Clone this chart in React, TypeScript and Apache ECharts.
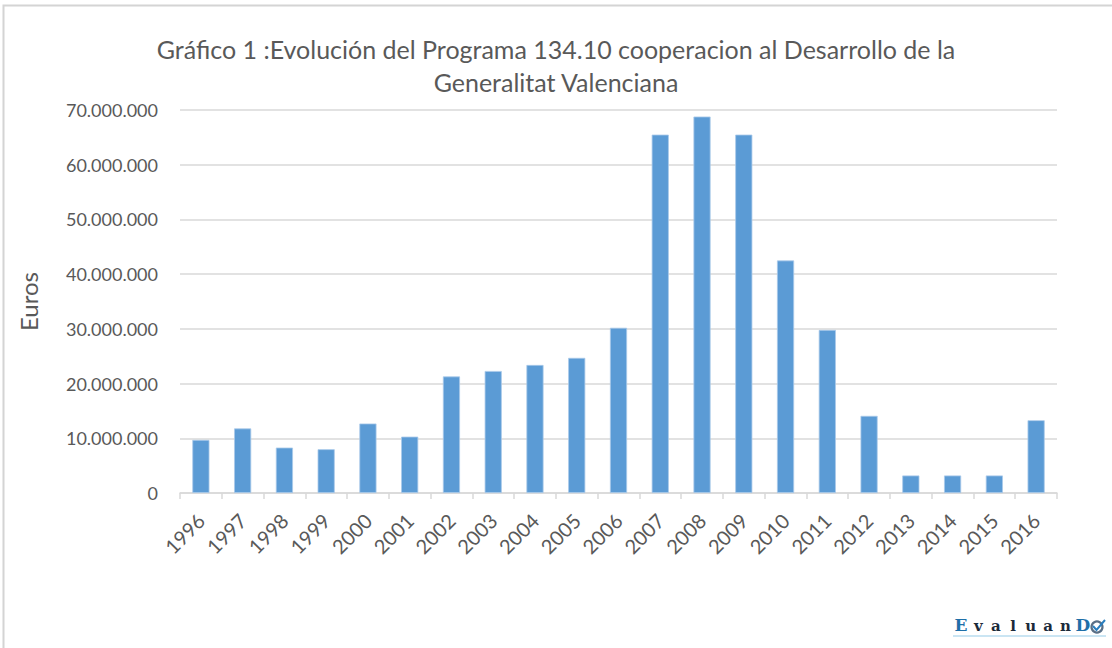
import React, { useEffect, useRef } from "react";
import * as echarts from "echarts";

const years = ["1996","1997","1998","1999","2000","2001","2002","2003","2004","2005","2006","2007","2008","2009","2010","2011","2012","2013","2014","2015","2016"];
const euros = [9700000, 11800000, 8300000, 8000000, 12700000, 10300000, 21300000, 22300000, 23400000, 24700000, 30200000, 65500000, 68800000, 65500000, 42500000, 29800000, 14100000, 3200000, 3200000, 3200000, 13300000];
const titleLines = ["Gráfico 1 :Evolución del Programa 134.10 cooperacion al Desarrollo de la", "Generalitat Valenciana"];
const yAxisName = "Euros";
const logoLetters = ["E", "v", "a", "l", "u", "a", "n", "D"];

function fmt(v: number): string {
  const s = String(Math.round(v));
  return s.replace(/\B(?=(\d{3})+(?!\d))/g, ".");
}

export default function App() {
  const ref = useRef<HTMLDivElement>(null);
  useEffect(() => {
    if (!ref.current) return;
    const chart = echarts.init(ref.current, null, { renderer: "svg" });
    const font = "Lato, 'Open Sans', sans-serif";
    const serif = "'DejaVu Serif', 'Liberation Serif', serif";
    const logoTexts = logoLetters.map((ch, i) => {
      const cap = ch === "E" || ch === "D";
      return {
        type: "text",
        x: 961 + i * 17.4,
        y: 633,
        style: {
          text: ch,
          fontFamily: serif,
          fontWeight: "bold",
          fontSize: cap ? 17 : 15,
          fill: cap ? "#1f6fa8" : "#1b2a3a",
          align: "center",
          verticalAlign: "bottom",
        },
      };
    });
    chart.setOption({
      animation: false,
      backgroundColor: "#ffffff",
      title: {
        text: titleLines.join("\n"),
        left: "center",
        top: 27,
        textStyle: { fontFamily: font, fontSize: 25, fontWeight: "normal", color: "#595959", lineHeight: 33 },
      },
      grid: { left: 180, right: 55, top: 110, bottom: 155, containLabel: false },
      xAxis: {
        type: "category",
        data: years,
        axisLine: { lineStyle: { color: "#d9d9d9", width: 1.5 } },
        axisTick: { show: true, alignWithLabel: false, length: 6, lineStyle: { color: "#d9d9d9", width: 1.5 } },
        axisLabel: { rotate: 45, fontFamily: font, fontSize: 20, color: "#595959", margin: 24 },
      },
      yAxis: {
        type: "value",
        min: 0,
        max: 70000000,
        interval: 10000000,
        name: yAxisName,
        nameLocation: "middle",
        nameGap: 140,
        nameTextStyle: { fontFamily: font, fontSize: 24, color: "#595959" },
        axisLine: { show: false },
        axisTick: { show: false },
        splitLine: { lineStyle: { color: "#d9d9d9", width: 1.5 } },
        axisLabel: { fontFamily: font, fontSize: 18, color: "#595959", margin: 22, formatter: (v: number) => fmt(v) },
      },
      series: [
        {
          type: "bar",
          data: euros,
          barWidth: "41%",
          itemStyle: { color: "#5b9bd5", borderColor: "#a9c9ea", borderWidth: 0.8 },
        },
      ],
      graphic: [
        {
          type: "rect",
          shape: { x: 3.5, y: 5.5, width: 1130, height: 680 },
          style: { fill: "none", stroke: "#d4d4d4", lineWidth: 2 },
          silent: true,
        },
        ...logoTexts,
        {
          type: "circle",
          shape: { cx: 1097, cy: 627, r: 5.5 },
          style: { fill: "#ffffff", stroke: "#5a6f86", lineWidth: 2.2 },
        },
        {
          type: "polyline",
          shape: { points: [[1093, 626], [1096.5, 630], [1105, 620]] },
          style: { stroke: "#2a7fc0", lineWidth: 2, fill: "none" },
        },
        {
          type: "line",
          shape: { x1: 953, y1: 636, x2: 1106, y2: 636 },
          style: { stroke: "#b9dcef", lineWidth: 1.5 },
        },
      ],
    });
    return () => chart.dispose();
  }, []);
  return <div ref={ref} style={{ position: "absolute", left: 0, top: 0, width: 1112, height: 648 }} />;
}
